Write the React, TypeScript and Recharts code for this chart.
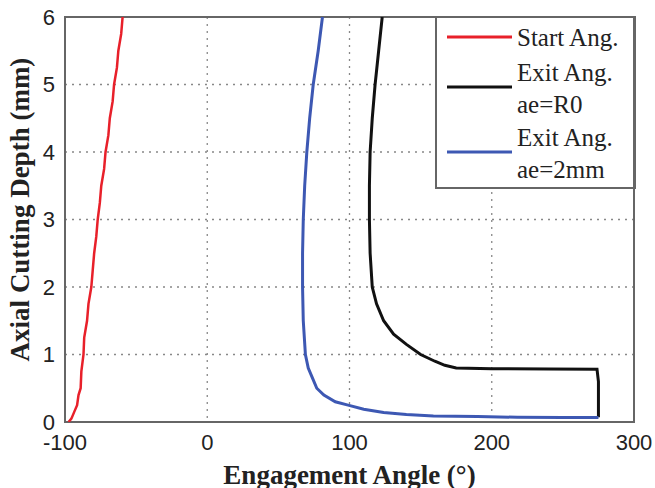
import React from 'react';
import { LineChart, Line, XAxis, YAxis, CartesianGrid, ReferenceArea, Customized } from 'recharts';

const xTicks = [-100, 0, 100, 200, 300];
const yTicks = [0, 1, 2, 3, 4, 5, 6];

const startAng = [
  { x: -97.5, y: 0 }, { x: -95.5, y: 0.05 }, { x: -93.5, y: 0.15 }, { x: -91.5, y: 0.25 },
  { x: -90.5, y: 0.4 }, { x: -89, y: 0.5 }, { x: -88.5, y: 0.75 }, { x: -87, y: 1 },
  { x: -86.5, y: 1.25 }, { x: -84.5, y: 1.5 }, { x: -83.5, y: 1.75 }, { x: -81.5, y: 2 },
  { x: -80.5, y: 2.25 }, { x: -79.5, y: 2.5 }, { x: -78, y: 2.75 }, { x: -77, y: 3 },
  { x: -75.5, y: 3.25 }, { x: -74.5, y: 3.5 }, { x: -72.5, y: 3.75 }, { x: -71.5, y: 4 },
  { x: -69.5, y: 4.25 }, { x: -68.5, y: 4.5 }, { x: -66.5, y: 4.75 }, { x: -65.5, y: 5 },
  { x: -63.5, y: 5.25 }, { x: -62.5, y: 5.5 }, { x: -60.5, y: 5.75 }, { x: -59.5, y: 6 },
];

const exitR0 = [
  { x: 123, y: 6 }, { x: 120.5, y: 5.5 }, { x: 118, y: 5 }, { x: 116, y: 4.5 },
  { x: 114.5, y: 4 }, { x: 114, y: 3.5 }, { x: 114, y: 3 }, { x: 114.5, y: 2.5 },
  { x: 116, y: 2 }, { x: 119, y: 1.75 }, { x: 124, y: 1.5 }, { x: 131, y: 1.3 },
  { x: 140, y: 1.15 }, { x: 150, y: 1.0 }, { x: 160, y: 0.9 }, { x: 167, y: 0.84 },
  { x: 175, y: 0.8 }, { x: 200, y: 0.79 }, { x: 240, y: 0.785 }, { x: 274, y: 0.78 },
  { x: 275, y: 0.6 }, { x: 275, y: 0.3 }, { x: 275, y: 0.07 },
];

const exit2mm = [
  { x: 81, y: 6 }, { x: 78, y: 5.5 }, { x: 74.5, y: 5 }, { x: 72, y: 4.5 },
  { x: 70, y: 4 }, { x: 68.5, y: 3.5 }, { x: 67.5, y: 3 }, { x: 67, y: 2.5 },
  { x: 67, y: 2 }, { x: 67.5, y: 1.5 }, { x: 69, y: 1 }, { x: 71, y: 0.8 },
  { x: 74, y: 0.65 }, { x: 77, y: 0.5 }, { x: 82, y: 0.4 }, { x: 90, y: 0.3 },
  { x: 99, y: 0.25 }, { x: 110, y: 0.19 }, { x: 124, y: 0.14 }, { x: 140, y: 0.11 },
  { x: 159, y: 0.09 }, { x: 190, y: 0.08 }, { x: 218, y: 0.07 }, { x: 250, y: 0.065 },
  { x: 275, y: 0.065 },
];

const seriesNames = ['Start Ang.', 'Exit Ang.\nae=R0', 'Exit Ang.\nae=2mm'];
const seriesColors = ['#e8202a', '#111111', '#3d58b3'];

const serif = '"Liberation Serif", "Times New Roman", serif';
const sans = '"Liberation Sans", Arial, sans-serif';

const LegendBox = () => {
  const bx = 436, by = 17, bw = 199, bh = 171;
  const rowY = [20, 70, 135];
  return (
    <g>
      <rect x={bx} y={by} width={bw} height={bh} fill="#fff" stroke="#666" strokeWidth={2} />
      {seriesNames.map((name, i) => {
        const lines = name.split('\n');
        const ly = by + rowY[i];
        return (
          <g key={i}>
            <line x1={bx + 11} x2={bx + 76} y1={ly} y2={ly} stroke={seriesColors[i]} strokeWidth={3} />
            {lines.map((t, j) => (
              <text key={j} x={bx + 81} y={ly + (lines.length === 1 ? 0 : (j === 0 ? -15 : 17))}
                dominantBaseline="central" fontFamily={serif} fontSize={25} fill="#222">{t}</text>
            ))}
          </g>
        );
      })}
    </g>
  );
};

export default function App() {
  return (
    <div style={{ position: 'absolute', left: 0, top: 0, background: '#fff' }}>
      <LineChart width={655} height={488} margin={{ top: 17, right: 21, left: 0, bottom: 0 }}>
        <CartesianGrid stroke="#888" strokeDasharray="2 5" strokeWidth={1.3} />
        <XAxis dataKey="x" type="number" domain={[-100, 300]} ticks={xTicks} allowDataOverflow
          height={66} tickLine={false} tickSize={6} tickMargin={6} axisLine={false}
          tick={{ fontFamily: sans, fontSize: 22, fill: '#222' }}
          label={{ value: 'Engagement Angle (°)', position: 'insideBottom', offset: 4,
            style: { fontFamily: serif, fontSize: 27, fontWeight: 'bold', fill: '#222' } }} />
        <YAxis type="number" domain={[0, 6]} ticks={yTicks} allowDataOverflow width={65}
          tickLine={false} tickSize={6} tickMargin={4} axisLine={false}
          tick={{ fontFamily: sans, fontSize: 22, fill: '#222' }}
          label={{ content: (p: any) => {
            const vb = p.viewBox;
            const cx = vb.x + 20;
            const cy = vb.y + vb.height / 2 - 10;
            return (
              <text x={cx} y={cy} transform={`rotate(-90 ${cx} ${cy})`} textAnchor="middle"
                dominantBaseline="central" fontFamily={serif} fontSize={27} fontWeight="bold" fill="#222">
                Axial Cutting Depth (mm)
              </text>
            );
          } }} />
        <ReferenceArea x1={-100} x2={300} y1={0} y2={6} fill="none" stroke="#666" strokeWidth={2} ifOverflow="visible" />
        <Line data={startAng} dataKey="y" name={seriesNames[0]} stroke={seriesColors[0]} strokeWidth={2.5} dot={false} isAnimationActive={false} type="linear" />
        <Line data={exitR0} dataKey="y" name={seriesNames[1]} stroke={seriesColors[1]} strokeWidth={3} dot={false} isAnimationActive={false} type="linear" />
        <Line data={exit2mm} dataKey="y" name={seriesNames[2]} stroke={seriesColors[2]} strokeWidth={3} dot={false} isAnimationActive={false} type="linear" />
        <Customized component={LegendBox} />
      </LineChart>
    </div>
  );
}
